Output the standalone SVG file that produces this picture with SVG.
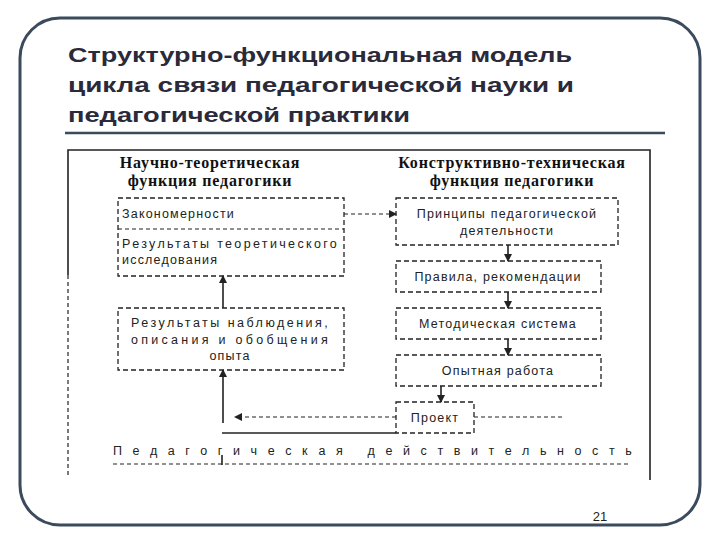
<svg xmlns="http://www.w3.org/2000/svg" width="720" height="540" viewBox="0 0 720 540">
<style>
.t{font-family:"Liberation Sans",Arial,sans-serif;font-size:12.5px;letter-spacing:1.2px;fill:#222}
.h{font-family:"Liberation Serif","Times New Roman",serif;font-size:16px;font-weight:bold;letter-spacing:0.8px;fill:#111}
.b{fill:#fff;stroke:#222;stroke-width:1.3;stroke-dasharray:5 3}
.d{stroke:#222;stroke-width:1.2;stroke-dasharray:4 3;fill:none}
.s{stroke:#222;stroke-width:1.6;fill:none}
</style>
<defs><marker id="a" markerWidth="8" markerHeight="8" refX="7" refY="4" orient="auto" markerUnits="userSpaceOnUse"><path d="M0,0 L8,4 L0,8 Z" fill="#222"/></marker></defs>
<rect x="20" y="18" width="680" height="507" rx="40" fill="#fff" stroke="#3b4a5c" stroke-width="3"/>
<g font-family="Liberation Sans,Arial,sans-serif" font-size="21" font-weight="bold" fill="#2a2a3a">
<text x="68" y="62" textLength="504" lengthAdjust="spacingAndGlyphs">Структурно-функциональная модель</text>
<text x="68" y="92" textLength="506" lengthAdjust="spacingAndGlyphs">цикла связи педагогической науки и</text>
<text x="68" y="122" textLength="342" lengthAdjust="spacingAndGlyphs">педагогической практики</text></g>
<line x1="65" y1="133" x2="665" y2="133" stroke="#3b4a5c" stroke-width="2.5"/>
<path d="M68,275 V150 H650 V480" class="s"/>
<line x1="68" y1="275" x2="68" y2="475" class="d"/>
<text class="h" x="210" y="168" text-anchor="middle">Научно-теоретическая</text>
<text class="h" x="210" y="186" text-anchor="middle">функция педагогики</text>
<text class="h" x="512" y="168" text-anchor="middle">Конструктивно-техническая</text>
<text class="h" x="512" y="186" text-anchor="middle">функция педагогики</text>
<g id="n1"><rect class="b" x="118" y="198" width="226" height="78"/><line class="d" x1="118" y1="229" x2="344" y2="229"/>
<text class="t" x="122" y="218">Закономерности</text><text class="t" x="122" y="248" textLength="216" lengthAdjust="spacing">Результаты теоретического</text><text class="t" x="122" y="264">исследования</text></g>
<g id="n2"><rect class="b" x="118" y="308" width="226" height="62"/>
<text class="t" x="131" y="327" textLength="198" lengthAdjust="spacing">Результаты наблюдения,</text><text class="t" x="131" y="344" textLength="198" lengthAdjust="spacing">описания и обобщения</text><text class="t" x="230" y="360" text-anchor="middle">опыта</text></g>
<g id="n3"><rect class="b" x="396" y="198" width="222" height="47"/><text class="t" x="507" y="218" text-anchor="middle">Принципы педагогической</text><text class="t" x="507" y="235" text-anchor="middle">деятельности</text></g>
<g id="n4"><rect class="b" x="396" y="261" width="205" height="31"/><text class="t" x="498" y="281" text-anchor="middle">Правила, рекомендации</text></g>
<g id="n5"><rect class="b" x="396" y="308" width="205" height="31"/><text class="t" x="498" y="328" text-anchor="middle">Методическая система</text></g>
<g id="n6"><rect class="b" x="396" y="355" width="205" height="31"/><text class="t" x="498" y="375" text-anchor="middle">Опытная работа</text></g>
<g id="n7"><rect class="b" x="396" y="402" width="78" height="31"/><text class="t" x="435" y="422" text-anchor="middle">Проект</text></g>
<g id="n8"><text class="t" x="113" y="455" textLength="520" lengthAdjust="spacing">Педагогическая действительность</text></g>
<g id="connectors">
<line class="d" x1="344" y1="214" x2="396" y2="214" marker-end="url(#a)"/>
<line class="s" x1="508" y1="245" x2="508" y2="261" marker-end="url(#a)"/>
<line class="s" x1="508" y1="292" x2="508" y2="308" marker-end="url(#a)"/>
<line class="s" x1="508" y1="339" x2="508" y2="355" marker-end="url(#a)"/>
<line class="s" x1="441" y1="386" x2="441" y2="402" marker-end="url(#a)"/>
<line class="d" x1="396" y1="417" x2="235" y2="417" marker-end="url(#a)"/>
<line class="d" x1="474" y1="417" x2="562" y2="417"/>
<line class="s" x1="222" y1="433" x2="396" y2="433"/>
<line class="s" x1="223" y1="423" x2="223" y2="370" marker-end="url(#a)"/>
<line class="s" x1="223" y1="308" x2="223" y2="276" marker-end="url(#a)"/>
<line class="d" x1="113" y1="464" x2="628" y2="464"/>
<line class="s" x1="222" y1="455" x2="222" y2="465" stroke-width="1"/>
</g>
<text x="600" y="521" font-family="Liberation Sans,Arial,sans-serif" font-size="13" fill="#222" text-anchor="middle">21</text>
</svg>
